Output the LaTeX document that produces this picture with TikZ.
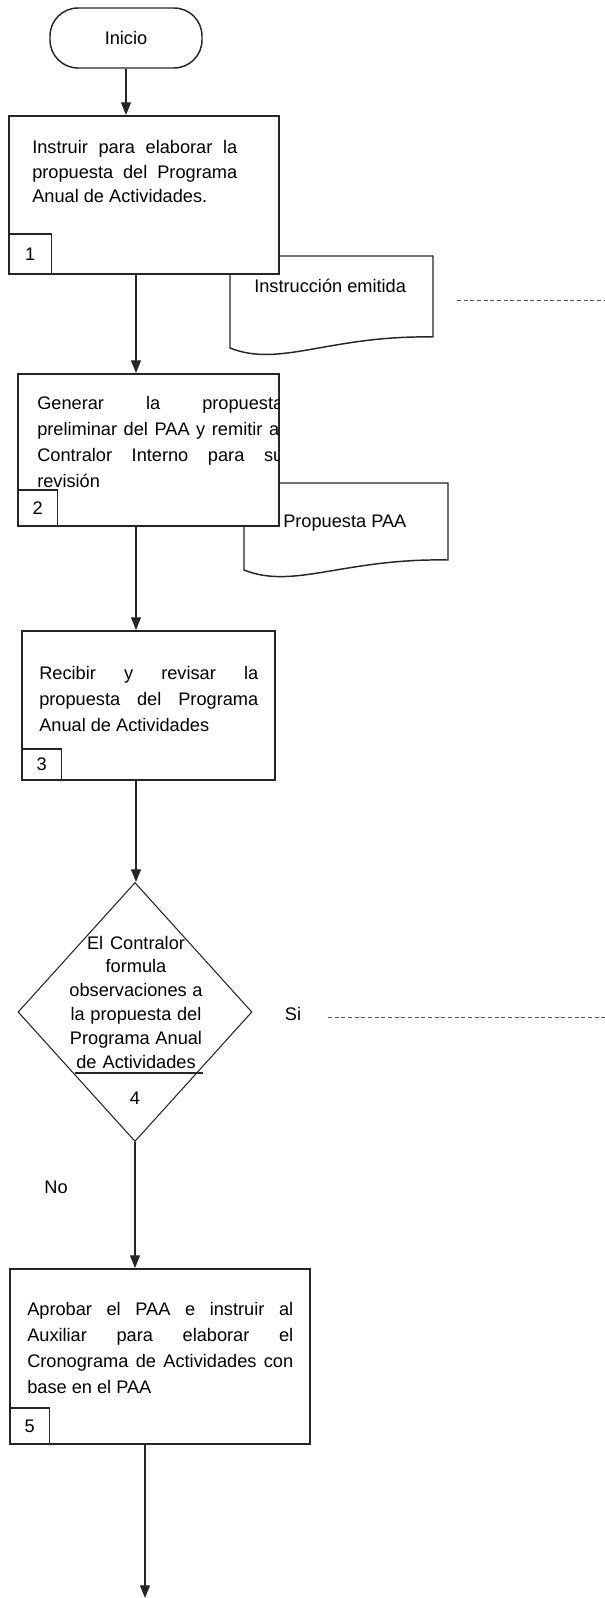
\documentclass[tikz,border=0pt]{standalone}
\usepackage{fontspec}
\setmainfont{Liberation Sans}
\usetikzlibrary{arrows.meta,shapes.geometric,calc}
% the font's own interword glue (TikZ alignment fixes it otherwise)
\newcommand{\fontspaces}{\spaceskip=0pt\xspaceskip=0pt\relax}
% one justified line of the given width
\newcommand{\jline}[2]{\makebox[#1][s]{\fontspaces #2}}
\begin{document}
\begin{tikzpicture}[x=0.75pt,y=-0.75pt,
  ink/.style={draw=black!85},
  procbox/.style={ink, line width=1.3pt, fill=white, rectangle, anchor=north west, inner sep=0pt},
  numcell/.style={ink, line width=1.1pt, rectangle, anchor=south west, inner sep=0pt, font=\fontsize{13.65}{16}\selectfont},
  bodytext/.style={anchor=base west, inner sep=0pt, align=left, font=\fontsize{13.65}{#1}\selectfont},
  bodytext/.default=19.5pt,
  plain/.style={inner sep=0pt, font=\fontsize{13.65}{16}\selectfont},
  flow/.style={ink, line width=0.85pt, -{Triangle[width=7.5pt,length=9.5pt]}},
  docshape/.style={ink, line width=1.1pt, fill=white},
  link/.style={draw=black!65, line width=0.6pt, dash pattern=on 3pt off 2pt},
]
\useasboundingbox (0,0) rectangle (605,1598);

% start terminal
\node[ink, line width=1.1pt, rectangle, rounded corners=21pt, minimum width=114pt,
      minimum height=45pt, inner sep=0pt, font=\fontsize{13.65}{16}\selectfont] (start) at (126,38) {Inicio};

% documents (drawn first, the process boxes overlap them)
\draw[docshape] (230,256) -- (433,256) -- (433,337) .. controls (330,335) and (280,368) .. (230,348) -- cycle;
\node[plain, anchor=base west] (doc1) at (254,292) {Instrucción emitida};
\draw[docshape] (244,483) -- (448,483) -- (448,560) .. controls (344,558) and (294,590) .. (244,570) -- cycle;
\node[plain, anchor=base west] (doc2) at (283,527) {Propuesta PAA};

% process boxes and decision
\node[procbox, minimum width=202.5pt, minimum height=118.5pt] (box1) at (8,115) {};
\node[procbox, minimum width=195.75pt, minimum height=114pt] (box2) at (17,373) {};
\node[procbox, minimum width=189.75pt, minimum height=111.75pt] (box3) at (21,630) {};
\node[ink, line width=0.8pt, diamond, minimum width=175.5pt, minimum height=194.25pt, inner sep=0pt] (dec) at (135,1012) {};
\node[procbox, minimum width=225pt, minimum height=131.25pt] (box5) at (9,1268) {};

% step numbers
\node[numcell, minimum width=32.25pt, minimum height=30pt] (n1) at (box1.south west) {1};
\node[numcell, minimum width=30pt, minimum height=27pt] (n2) at (box2.south west) {2};
\node[numcell, minimum width=30pt, minimum height=23.25pt] (n3) at (box3.south west) {3};
\node[numcell, minimum width=30pt, minimum height=27pt] (n5) at (box5.south west) {5};

% box texts
\node[bodytext=18.15pt, text width=153.75pt] (t1) at (32,154)
  {\fontspaces\jline{153.75pt}{Instruir para elaborar la}\\ \jline{153.75pt}{propuesta del Programa}\\ Anual de Actividades.};
\begin{scope}
  \clip (box2.north west) rectangle (box2.south east);
  \node[bodytext=19.5pt, text width=184.5pt] (t2) at (37,409)
    {\fontspaces\jline{184.5pt}{Generar la propuesta}\\ \jline{184.5pt}{preliminar del PAA y remitir al}\\ \jline{184.5pt}{Contralor Interno para su}\\ revisión};
\end{scope}
\node[bodytext=19.5pt, text width=164.25pt] (t3) at (39,679)
  {\fontspaces\jline{164.25pt}{Recibir y revisar la}\\ \jline{164.25pt}{propuesta del Programa}\\ Anual de Actividades};
\node[bodytext=19.7pt, text width=199.5pt] (t5) at (27,1315)
  {\fontspaces\jline{199.5pt}{Aprobar el PAA e instruir al}\\ \jline{199.5pt}{Auxiliar para elaborar el}\\ \jline{199.5pt}{Cronograma de Actividades con}\\ base en el PAA};

% decision text
\node[inner sep=0pt, anchor=base, text width=112.5pt, align=center,
      font=\fontsize{13.65}{17.85}\selectfont] (q4) at (136,949)
  {\fontspaces El Contralor\\ formula\\ observaciones a\\ la propuesta del\\ Programa Anual\\ de Actividades};
\draw[ink, line width=0.8pt] ($(dec.center)+(-60,61)$) -- ($(dec.center)+(68,61)$);
\node[plain, anchor=base] (q4n) at (135,1104) {4};

% branch labels
\node[plain, anchor=base] (si) at (293,1020) {Si};
\node[plain, anchor=base] (no) at (56,1193) {No};

% dashed links leaving to the right
\coordinate (d1a) at (457,300);
\coordinate (d1b) at (605,300);
\draw[link] (d1a) -- (d1b);
\coordinate (s1) at (328,1017);
\coordinate (s2) at (605,1017);
\draw[link] (s1) -- (s2);

% flow connectors
\draw[flow] (start.south) -- (start.south |- box1.north);
\coordinate (c12) at ($(box1.south west)+(128,0)$);
\draw[flow] (c12) -- (c12 |- box2.north);
\coordinate (c23) at ($(box2.south west)+(119,0)$);
\draw[flow] (c23) -- (c23 |- box3.north);
\coordinate (c34) at ($(box3.south west)+(115,0)$);
\draw[flow] (c34) -- (c34 |- dec.north);
\draw[flow] (dec.south) -- (dec.south |- box5.north);
\coordinate (c5) at ($(box5.south west)+(136,0)$);
\coordinate (fin) at (145,1598);
\draw[flow] (c5) -- (fin);
\end{tikzpicture}
\end{document}
